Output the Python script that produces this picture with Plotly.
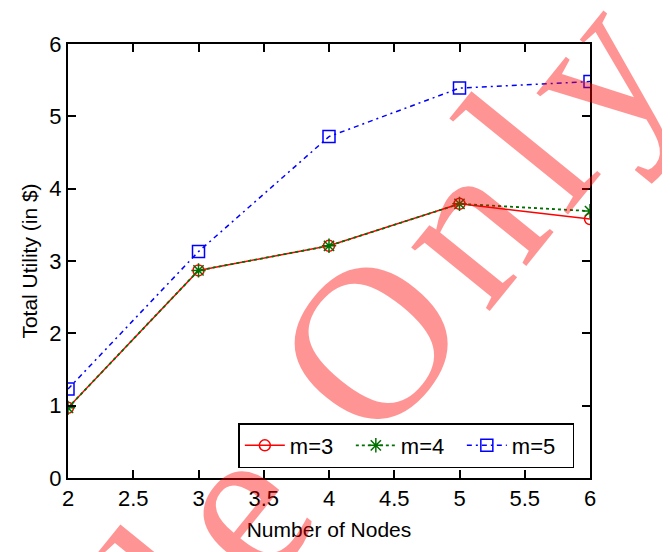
import plotly.graph_objects as go

nodes = [2, 3, 4, 5, 6]
m3 = [0.97, 2.87, 3.21, 3.79, 3.58]
m4 = [0.97, 2.87, 3.21, 3.79, 3.69]
m5 = [1.23, 3.13, 4.72, 5.39, 5.48]
x_ticks = [2, 2.5, 3, 3.5, 4, 4.5, 5, 5.5, 6]
y_ticks = [0, 1, 2, 3, 4, 5, 6]

FONT = "Liberation Sans Narrow, Liberation Sans, Arial, sans-serif"

fig = go.Figure()
fig.add_trace(go.Scatter(x=nodes, y=m3, name="m=3", mode="lines+markers",
                         line=dict(color="#ff0000", width=1.5, dash="solid"),
                         marker=dict(symbol="circle-open", size=11, color="#ff0000", line=dict(width=1.5))))
fig.add_trace(go.Scatter(x=nodes, y=m4, name="m=4", mode="lines+markers",
                         line=dict(color="#007000", width=1.8, dash="3px,3px"),
                         marker=dict(symbol="asterisk-open", size=12, color="#007000", line=dict(width=1.5, color="#007000"))))
fig.add_trace(go.Scatter(x=nodes, y=m5, name="m=5", mode="lines+markers",
                         line=dict(color="#0000ff", width=1.5, dash="5px,4px,2px,4px"),
                         marker=dict(symbol="square-open", size=12, color="#0000ff", line=dict(width=1.5))))

axis_common = dict(showgrid=False, zeroline=False, showline=True, linecolor="black", linewidth=2,
                   ticks="inside", ticklen=8, tickwidth=1.5, tickcolor="black", mirror="allticks",
                   tickfont=dict(family=FONT, size=22, color="black"), automargin=False)

fig.update_xaxes(range=[2, 6], tickvals=x_ticks, ticktext=[str(v) for v in x_ticks],
                 title=dict(text="Number of Nodes", font=dict(family=FONT, size=21, color="black"), standoff=12),
                 **axis_common)
fig.update_yaxes(range=[0, 6], tickvals=y_ticks, ticktext=[str(v) for v in y_ticks],
                 title=dict(text="Total Utility (in $)", font=dict(family=FONT, size=21, color="black"), standoff=6),
                 **axis_common)

fig.update_layout(
    width=670, height=552,
    margin=dict(l=60, r=88, t=36, b=82),
    paper_bgcolor="white", plot_bgcolor="white",
    showlegend=True,
    legend=dict(orientation="h", x=0.97, y=0.023, xanchor="right", yanchor="bottom",
                bgcolor="white", bordercolor="black", borderwidth=1.5,
                font=dict(family=FONT, size=22, color="black"),
                itemwidth=40, entrywidth=56, entrywidthmode="pixels",
                tracegroupgap=0),
    annotations=[dict(text="<span style='letter-spacing:15px'>Sample Only</span>",
                      xref="paper", yref="paper", x=0.289, y=-0.115,
                      xanchor="center", yanchor="middle", showarrow=False, textangle=-51,
                      font=dict(family="Liberation Serif, Times New Roman, serif", size=220,
                                color="rgba(255,0,0,0.42)"))],
)

fig.write_html("out.html")
